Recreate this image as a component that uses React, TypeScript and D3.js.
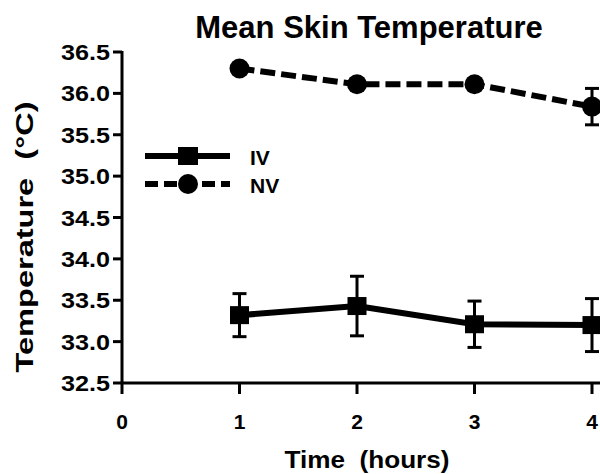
import React, { useEffect, useRef } from 'react';
import * as d3 from 'd3';

const hours = [1, 2, 3, 4];
const ivMean = [33.32, 33.43, 33.21, 33.2];
const ivErr = [0.26, 0.36, 0.28, 0.32];
const nvMean = [36.3, 36.11, 36.11, 35.84];
const nvErr = [0.05, 0.05, 0.06, 0.22];
const xTicks = [0, 1, 2, 3, 4];
const yTicks = [32.5, 33.0, 33.5, 34.0, 34.5, 35.0, 35.5, 36.0, 36.5];

const App = () => {
  const chartRef = useRef<HTMLDivElement>(null);

  useEffect(() => {
    drawChart();
  }, []);

  const drawChart = () => {
    const width = 600;
    const height = 474;
    const font = "'Liberation Sans', Arial, Helvetica, sans-serif";

    d3.select(chartRef.current).select('svg').remove();

    const svg = d3.select(chartRef.current)
      .append('svg')
      .attr('width', width)
      .attr('height', height)
      .style('position', 'absolute')
      .style('left', 0)
      .style('top', 0)
      .style('font-family', font)
      .style('font-weight', 'bold');

    const x = d3.scaleLinear().domain([0, 4]).range([122, 592]);
    const y = d3.scaleLinear().domain([32.5, 36.5]).range([383, 52]);

    // title
    svg.append('text')
      .attr('x', 369)
      .attr('y', 38)
      .attr('text-anchor', 'middle')
      .style('font-size', '31px')
      .text('Mean Skin Temperature');

    // y axis
    svg.append('line')
      .attr('x1', x(0)).attr('x2', x(0))
      .attr('y1', y(36.5) - 1).attr('y2', y(32.5) + 1)
      .style('stroke', '#000').style('stroke-width', 3);

    yTicks.forEach(t => {
      svg.append('line')
        .attr('x1', x(0) - 9).attr('x2', x(0))
        .attr('y1', y(t)).attr('y2', y(t))
        .style('stroke', '#000').style('stroke-width', 3);
      svg.append('text')
        .attr('x', 110)
        .attr('y', y(t) + 8)
        .attr('text-anchor', 'end')
        .attr('textLength', 49)
        .attr('lengthAdjust', 'spacingAndGlyphs')
        .style('font-size', '22px')
        .text(t.toFixed(1));
    });

    // x axis
    svg.append('line')
      .attr('x1', x(0) - 1).attr('x2', width)
      .attr('y1', y(32.5)).attr('y2', y(32.5))
      .style('stroke', '#000').style('stroke-width', 3);

    xTicks.forEach(t => {
      svg.append('line')
        .attr('x1', x(t)).attr('x2', x(t))
        .attr('y1', y(32.5)).attr('y2', y(32.5) + 11)
        .style('stroke', '#000').style('stroke-width', 3);
      svg.append('text')
        .attr('x', x(t))
        .attr('y', 429)
        .attr('text-anchor', 'middle')
        .style('font-size', '21px')
        .text(t);
    });

    svg.append('text')
      .attr('x', 367)
      .attr('y', 468)
      .attr('text-anchor', 'middle')
      .attr('textLength', 165)
      .attr('lengthAdjust', 'spacingAndGlyphs')
      .style('font-size', '24px')
      .style('white-space', 'pre')
      .text('Time  (hours)');

    svg.append('text')
      .attr('transform', 'translate(33, 237) rotate(-90)')
      .attr('text-anchor', 'middle')
      .attr('textLength', 271)
      .attr('lengthAdjust', 'spacingAndGlyphs')
      .style('font-size', '24px')
      .style('white-space', 'pre')
      .text('Temperature  (°C)');

    const line = d3.line<number>()
      .x((d, i) => x(hours[i]))
      .y(d => y(d));

    const drawErr = (means: number[], errs: number[]) => {
      means.forEach((m, i) => {
        const cx = x(hours[i]);
        svg.append('line')
          .attr('x1', cx).attr('x2', cx)
          .attr('y1', y(m + errs[i])).attr('y2', y(m - errs[i]))
          .style('stroke', '#000').style('stroke-width', 3);
        [m + errs[i], m - errs[i]].forEach(v => {
          svg.append('line')
            .attr('x1', cx - 7).attr('x2', cx + 7)
            .attr('y1', y(v)).attr('y2', y(v))
            .style('stroke', '#000').style('stroke-width', 3);
        });
      });
    };

    // IV series
    drawErr(ivMean, ivErr);
    svg.append('path')
      .attr('d', line(ivMean))
      .style('fill', 'none')
      .style('stroke', '#000')
      .style('stroke-width', 6);
    ivMean.forEach((m, i) => {
      svg.append('rect')
        .attr('x', x(hours[i]) - 9.5)
        .attr('y', y(m) - 9)
        .attr('width', 19)
        .attr('height', 18)
        .style('fill', '#000');
    });

    // NV series
    drawErr(nvMean, nvErr);
    svg.append('path')
      .attr('d', line(nvMean))
      .style('fill', 'none')
      .style('stroke', '#000')
      .style('stroke-width', 6)
      .style('stroke-dasharray', '15,6');
    nvMean.forEach((m, i) => {
      svg.append('circle')
        .attr('cx', x(hours[i]))
        .attr('cy', y(m))
        .attr('r', 10)
        .style('fill', '#000');
    });

    // legend
    svg.append('line')
      .attr('x1', 145).attr('x2', 230)
      .attr('y1', 156).attr('y2', 156)
      .style('stroke', '#000').style('stroke-width', 6);
    svg.append('rect')
      .attr('x', 178).attr('y', 147)
      .attr('width', 20).attr('height', 18)
      .style('fill', '#000');
    svg.append('text')
      .attr('x', 250).attr('y', 165)
      .style('font-size', '21px')
      .text('IV');

    svg.append('line')
      .attr('x1', 145).attr('x2', 230)
      .attr('y1', 184).attr('y2', 184)
      .style('stroke', '#000').style('stroke-width', 6)
      .style('stroke-dasharray', '13,6');
    svg.append('circle')
      .attr('cx', 188).attr('cy', 184).attr('r', 10)
      .style('fill', '#000');
    svg.append('text')
      .attr('x', 250).attr('y', 193)
      .style('font-size', '21px')
      .text('NV');
  };

  return (
    <div ref={chartRef}></div>
  );
};

export default App;
